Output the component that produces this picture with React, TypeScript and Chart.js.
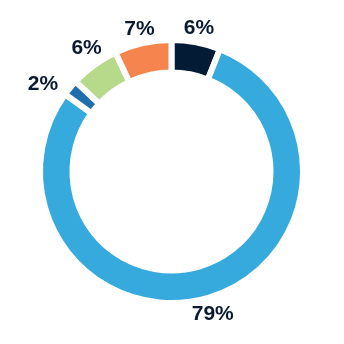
import React, { useEffect, useRef } from "react";
import { Chart, registerables } from "chart.js";

Chart.register(...registerables);

const categories = ["A", "B", "C", "D", "E"];
const values = [6, 79, 2, 6, 7];
const colors = ["#041b35", "#36a9dd", "#1f6fad", "#b6d98a", "#f6844f"];
const textColor = "#0b1a30";

const labelPlugin = {
  id: "outsideLabels",
  afterDatasetsDraw(chart: any) {
    const meta = chart.getDatasetMeta(0);
    const ctx = chart.ctx;
    const n = meta.data.length;
    const base: number[] = meta.data.map((a: any) => {
      const mid = (a.startAngle + a.endAngle) / 2;
      return ((mid * 180) / Math.PI + 90 + 360) % 360;
    });
    const angs = base.slice();
    const minSep = 21;
    for (let it = 0; it < 50; it++) {
      for (let i = 0; i < n; i++) {
        const j = (i + 1) % n;
        let d = angs[j] - angs[i];
        if (d < 0) d += 360;
        if (d < minSep) {
          const need = minSep - d;
          const tot = values[i] + values[j];
          angs[i] -= (need * values[j]) / tot;
          angs[j] += (need * values[i]) / tot;
        }
      }
    }
    ctx.save();
    ctx.font = "bold 21px 'Liberation Sans', Arial, sans-serif";
    ctx.fillStyle = textColor;
    ctx.textAlign = "center";
    ctx.textBaseline = "middle";
    meta.data.forEach((arc: any, i: number) => {
      const text = values[i] + "%";
      const w = ctx.measureText(text).width / 2;
      const h = 7.5;
      const rad = ((angs[i] - 90) * Math.PI) / 180;
      const c = Math.cos(rad);
      const s = Math.sin(rad);
      const support = Math.sqrt((w * c) * (w * c) + (h * s) * (h * s));
      const visibleOuter = arc.outerRadius - (arc.options.borderWidth || 0) / 2;
      const moved = Math.abs(angs[i] - base[i]);
      const r = visibleOuter + 10 + support + moved * 0.9;
      ctx.fillText(text, arc.x + c * r, arc.y + s * r + 1);
    });
    ctx.restore();
  },
};

export default function App() {
  const ref = useRef<HTMLCanvasElement | null>(null);
  useEffect(() => {
    if (!ref.current) return;
    const chart = new Chart(ref.current, {
      type: "doughnut",
      data: {
        labels: categories,
        datasets: [
          {
            data: values,
            backgroundColor: colors,
            borderColor: "#ffffff",
            borderWidth: 6,
            borderJoinStyle: "miter",
            hoverOffset: 0,
          } as any,
        ],
      },
      options: {
        responsive: false,
        animation: false,
        radius: 131.5,
        cutout: "75.3%",
        layout: { padding: { right: 1, bottom: 1 } },
        plugins: {
          legend: { display: false },
          tooltip: { enabled: false },
        },
      } as any,
      plugins: [labelPlugin],
    });
    return () => chart.destroy();
  }, []);
  return (
    <div style={{ position: "fixed", left: 0, top: 0, width: 344, height: 344, background: "#fff" }}>
      <canvas ref={ref} width={344} height={344} style={{ width: 344, height: 344 }} />
    </div>
  );
}
